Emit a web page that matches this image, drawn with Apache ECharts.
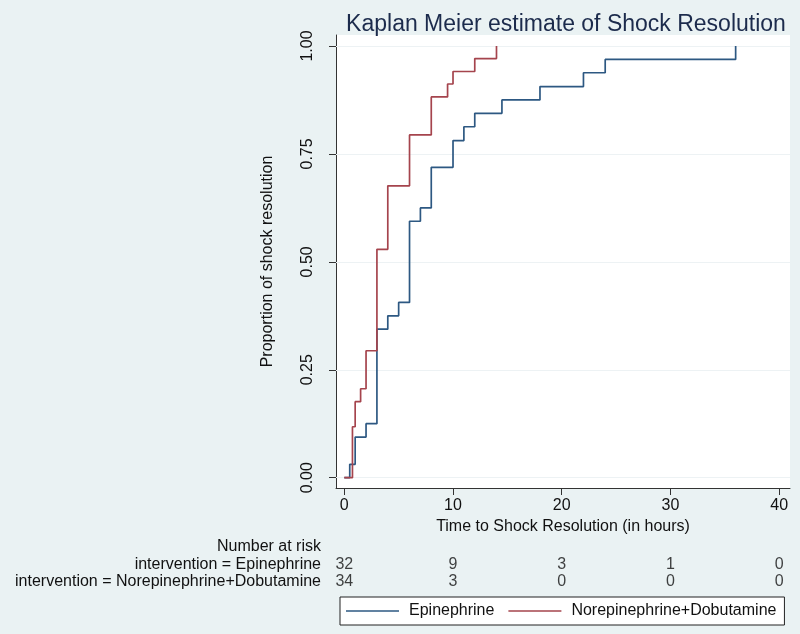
<!DOCTYPE html>
<html>
<head>
<meta charset="utf-8">
<script src="https://cdn.jsdelivr.net/npm/echarts@6/dist/echarts.min.js"></script>
<style>
html,body{margin:0;padding:0;background:#eaf2f3;}
#chart{width:800px;height:634px;}
</style>
</head>
<body>
<div id="chart"></div>
<script>
// ---- data ----
const titleText = 'Kaplan Meier estimate of Shock Resolution';
const xTitle = 'Time to Shock Resolution (in hours)';
const yTitle = 'Proportion of shock resolution';
const seriesNames = ['Epinephrine', 'Norepinephrine+Dobutamine'];

// Epinephrine: [time (h), cumulative proportion resolved]
const epiTimes  = [0, 0.5, 1, 2, 3, 4, 5, 6, 7, 8, 10, 11, 12, 14.5, 18, 22, 24, 36];
const epiValues = [0, 0.031, 0.094, 0.125, 0.344, 0.375, 0.406, 0.594, 0.625, 0.719, 0.781, 0.813, 0.844, 0.875, 0.906, 0.938, 0.969, 1.0];

// Norepinephrine+Dobutamine
const norTimes  = [0, 0.75, 1, 1.5, 2, 3, 4, 6, 8, 9.5, 10, 12, 14];
const norValues = [0, 0.118, 0.176, 0.206, 0.294, 0.529, 0.676, 0.794, 0.882, 0.912, 0.941, 0.971, 1.0];

// axis ticks
const xTicks = [0, 10, 20, 30, 40];
const yTicks = [0, 0.25, 0.5, 0.75, 1];

// number at risk table
const riskRows = ['Number at risk', 'intervention = Epinephrine', 'intervention = Norepinephrine+Dobutamine'];
const riskTimes = [0, 10, 20, 30, 40];
const riskEpi = [32, 9, 3, 1, 0];
const riskNor = [34, 3, 0, 0, 0];

// ---- chart ----
const FONT = "'Liberation Sans', Arial, sans-serif";
const TXT = '#111111';
const BLUE = '#2d5882';
const RED = '#a5444d';
const X_MIN = -0.764, X_MAX = 41.0;
const Y_MIN = -0.0239, Y_MAX = 1.0255;

const chart = echarts.init(document.getElementById('chart'), null, {renderer: 'canvas'});

const zip = (a, b) => a.map((v, i) => [v, b[i]]);

const option = {
  backgroundColor: '#eaf2f3',
  animation: false,
  textStyle: {fontFamily: FONT},
  title: {
    text: titleText,
    left: 561,
    textAlign: 'center',
    top: 8,
    textStyle: {fontFamily: FONT, fontSize: 23, fontWeight: 'normal', color: '#1c2b4c'}
  },
  legend: {
    left: 340,
    top: 597,
    orient: 'horizontal',
    data: seriesNames,
    icon: 'rect',
    itemWidth: 53,
    itemHeight: 1.6,
    itemGap: 14,
    borderColor: '#222',
    borderWidth: 1,
    borderRadius: 0,
    backgroundColor: '#ffffff',
    padding: [5, 8, 5, 6],
    textStyle: {fontFamily: FONT, fontSize: 16, color: TXT, lineHeight: 18, padding: [0, 0, 0, 5]}
  },
  grid: [
    {left: 336, right: 10, top: 35, bottom: 146, show: true, backgroundColor: '#ffffff', borderWidth: 0},
    {left: 336, right: 10, top: 538, height: 52.5, show: false}
  ],
  xAxis: [
    {
      type: 'value', gridIndex: 0, min: X_MIN, max: X_MAX,
      name: xTitle, nameLocation: 'middle', nameGap: 28,
      nameTextStyle: {fontFamily: FONT, fontSize: 16, color: TXT},
      axisLine: {show: true, onZero: false, lineStyle: {color: '#333', width: 1}},
      axisTick: {show: true, length: 7, lineStyle: {color: '#333'}, customValues: xTicks},
      axisLabel: {show: true, margin: 10, fontFamily: FONT, fontSize: 16, color: TXT, customValues: xTicks},
      splitLine: {show: false}
    },
    {
      type: 'value', gridIndex: 1, min: X_MIN, max: X_MAX, show: false
    }
  ],
  yAxis: [
    {
      type: 'value', gridIndex: 0, min: Y_MIN, max: Y_MAX,
      name: yTitle, nameLocation: 'middle', nameGap: 60,
      nameTextStyle: {fontFamily: FONT, fontSize: 16, color: TXT},
      axisLine: {show: true, onZero: false, lineStyle: {color: '#333', width: 1}},
      axisTick: {show: true, length: 7, lineStyle: {color: '#333'}, customValues: yTicks},
      axisLabel: {show: true, margin: 20, rotate: 90, fontFamily: FONT, fontSize: 16, color: TXT,
        customValues: yTicks, formatter: v => Number(v).toFixed(2)},
      splitLine: {show: false}
    },
    {
      type: 'category', gridIndex: 1, data: riskRows, inverse: true,
      axisLine: {show: false}, axisTick: {show: false}, splitLine: {show: false},
      axisLabel: {show: true, interval: 0, hideOverlap: false, margin: 15, fontFamily: FONT, fontSize: 16, color: TXT}
    }
  ],
  series: [
    {
      name: seriesNames[0], type: 'line', step: 'end', xAxisIndex: 0, yAxisIndex: 0,
      data: zip(epiTimes, epiValues), showSymbol: false, symbol: 'none',
      lineStyle: {color: BLUE, width: 1.7}, itemStyle: {color: BLUE}, z: 3,
      markLine: {
        silent: true, symbol: 'none', label: {show: false},
        lineStyle: {color: '#edf2f4', width: 1, type: 'solid'},
        data: yTicks.map(v => ({yAxis: v})),
        z: 1
      }
    },
    {
      name: seriesNames[1], type: 'line', step: 'end', xAxisIndex: 0, yAxisIndex: 0,
      data: zip(norTimes, norValues), showSymbol: false, symbol: 'none',
      lineStyle: {color: RED, width: 1.7}, itemStyle: {color: RED}, z: 4
    },
    {
      name: 'riskEpi', type: 'scatter', xAxisIndex: 1, yAxisIndex: 1,
      data: riskTimes.map((t, i) => [t, 1, riskEpi[i]]),
      symbolSize: 1, itemStyle: {color: 'rgba(0,0,0,0)'}, silent: true,
      label: {show: true, position: 'inside', formatter: p => String(p.value[2]),
        fontFamily: FONT, fontSize: 16, color: TXT}
    },
    {
      name: 'riskNor', type: 'scatter', xAxisIndex: 1, yAxisIndex: 1,
      data: riskTimes.map((t, i) => [t, 2, riskNor[i]]),
      symbolSize: 1, itemStyle: {color: 'rgba(0,0,0,0)'}, silent: true,
      label: {show: true, position: 'inside', formatter: p => String(p.value[2]),
        fontFamily: FONT, fontSize: 16, color: TXT}
    }
  ]
};
chart.setOption(option);
</script>
</body>
</html>
